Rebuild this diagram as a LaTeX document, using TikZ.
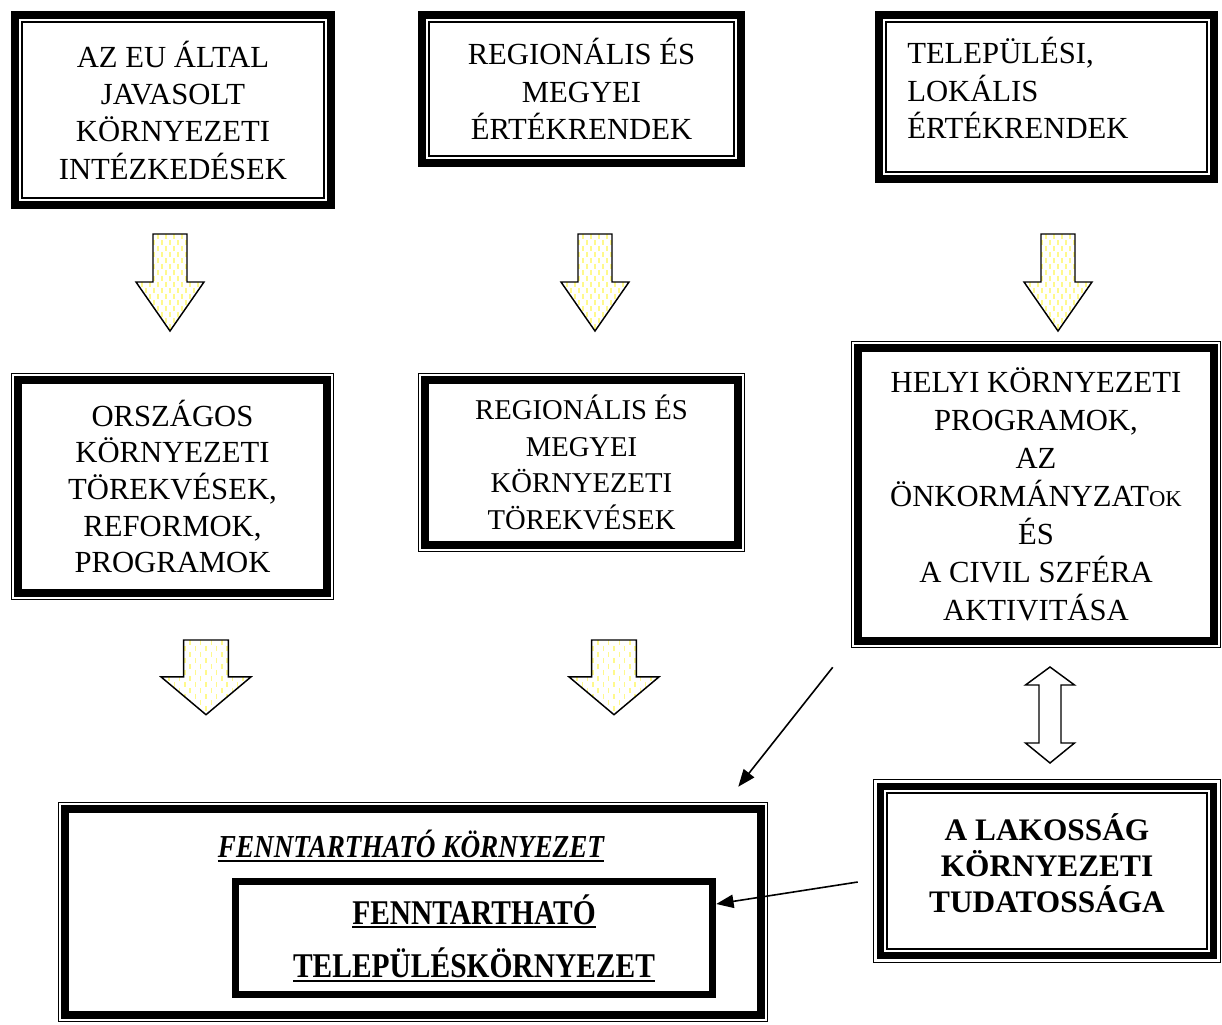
\documentclass[tikz,border=0pt]{standalone}
\usepackage{fontspec}
\setmainfont{Liberation Serif}
\newfontfamily\narrowfont[FakeStretch=0.85]{Liberation Serif}
\usetikzlibrary{arrows.meta}

% one rectangle inside a framed node: line width, inset
\newcommand\frameline[2]{\draw[line width=#1] ([shift={(#2,#2)}]path picture bounding box.south west) rectangle ([shift={(-#2,-#2)}]path picture bounding box.north east);}
% thick underline
\newcommand\thickul[1]{\setbox0\hbox{#1}\rlap{\rule[-3pt]{\wd0}{1.3pt}}\box0}

\begin{document}
\begin{tikzpicture}[
  x=0.75pt, y=-0.75pt,
  box/.style={fill=white,inner sep=0pt,align=center,font=\fontsize{23}{28}\selectfont},
  thickthin/.style={box,path picture={\frameline{6pt}{3pt}\frameline{1pt}{8.3pt}}},
  thinthick/.style={box,path picture={\frameline{1pt}{0.5pt}\frameline{6pt}{5.5pt}}},
  tripleline/.style={box,path picture={\frameline{1pt}{0.5pt}\frameline{5pt}{5.6pt}\frameline{1.4pt}{10.5pt}}},
  thickline/.style={box,path picture={\frameline{5.25pt}{2.6pt}}},
  dashfill/.style={yellow!45,line width=1pt,dash pattern=on 4pt off 5pt},
  blockarrow/.style={line width=1.1pt,fill=white,path picture={
    \foreach \dx in {-36,-28,...,36}
      \draw[dashfill] ([xshift=\dx*0.75pt]path picture bounding box.north) -- ([xshift=\dx*0.75pt]path picture bounding box.south);
    \foreach \dx in {-32,-24,...,32}
      \draw[dashfill,dash phase=4.5pt] ([xshift=\dx*0.75pt]path picture bounding box.north) -- ([xshift=\dx*0.75pt]path picture bounding box.south);
  }},
  downblock/.pic={\draw[blockarrow] (-17,0) -- (17,0) -- (17,48) -- (34,48) -- (0,97) -- (-34,48) -- (-17,48) -- cycle;},
  conn/.style={line width=1.2pt,-{Triangle[length=13pt,width=10pt]}},
]
\useasboundingbox (0,0) rectangle (1222,1025);

% top row
\node[thickthin,minimum width=243pt,minimum height=148.5pt] (euaction) at (173,110) {AZ EU ÁLTAL\\JAVASOLT\\KÖRNYEZETI\\INTÉZKEDÉSEK};
\node[thickthin,minimum width=245.25pt,minimum height=117pt] (regvalue) at (581.5,89) {REGIONÁLIS ÉS\\MEGYEI\\ÉRTÉKRENDEK};
\node[thickthin,minimum width=257.25pt,minimum height=129pt] (localvalue) at (1046.5,97) {};
\node[box,fill=none,align=left,anchor=west] (localtext) at (907,88) {TELEPÜLÉSI,\\LOKÁLIS\\ÉRTÉKRENDEK};

\foreach \ax in {170,595,1058}
  \pic at (\ax,234) {downblock};

% middle row
\node[thinthick,minimum width=242.25pt,minimum height=170.25pt,font=\fontsize{23}{27.5}\selectfont] (national) at (172.5,486.5) {ORSZÁGOS\\KÖRNYEZETI\\TÖREKVÉSEK,\\REFORMOK,\\PROGRAMOK};
\node[thinthick,minimum width=245.25pt,minimum height=134.25pt,font=\fontsize{21.5}{27.5}\selectfont] (regaim) at (581.5,462.5) {REGIONÁLIS ÉS\\MEGYEI\\KÖRNYEZETI\\TÖREKVÉSEK};
\node[thinthick,minimum width=277.5pt,minimum height=230.25pt,font=\fontsize{23}{28.5}\selectfont] (localprog) at (1036,494.5) {HELYI KÖRNYEZETI\\PROGRAMOK,\\AZ\\ÖNKORMÁNYZAT{\fontsize{17}{28.5}\selectfont OK}\\ÉS\\A CIVIL SZFÉRA\\AKTIVITÁSA};

\foreach \ax in {206,614}
  \pic[xscale=1.32,yscale=0.77] at (\ax,640) {downblock};
\draw[line width=1.1pt,fill=white] (1050,667) -- (1074.5,685) -- (1061,685) -- (1061,743) -- (1074.5,743) -- (1050,763) -- (1025.5,743) -- (1039,743) -- (1039,685) -- (1025.5,685) -- cycle;

% bottom row
\node[tripleline,minimum width=261pt,minimum height=138pt] (aware) at (1047,871) {};
\node[box,fill=none,font=\bfseries\fontsize{23.5}{27}\selectfont] (awaretext) at (1047,863) {A LAKOSSÁG\\KÖRNYEZETI\\TUDATOSSÁGA};

\node[thinthick,minimum width=532.5pt,minimum height=165pt] (sustenv) at (413,912) {};
\node[box,fill=none,font=\narrowfont\bfseries\itshape\fontsize{24}{28}\selectfont] (sustenvtext) at (411,846) {\thickul{FENNTARTHATÓ KÖRNYEZET}};
\node[thickline,minimum width=363pt,minimum height=90pt,font=\narrowfont\bfseries\fontsize{26}{40}\selectfont] (sustsettle) at (474,938) {\thickul{FENNTARTHATÓ}\\\thickul{TELEPÜLÉSKÖRNYEZET}};

\coordinate (progfoot) at ([shift={(-18,19)}]localprog.south west);
\coordinate (envcorner) at ([shift={(-30,-15)}]sustenv.north east);
\coordinate (awareleft) at ([shift={(-15,11)}]aware.west);
\coordinate (settletip) at ([yshift=25.5pt]sustsettle.east);
\draw[conn] (progfoot) -- (envcorner);
\draw[conn] (awareleft) -- (settletip);
\end{tikzpicture}
\end{document}
